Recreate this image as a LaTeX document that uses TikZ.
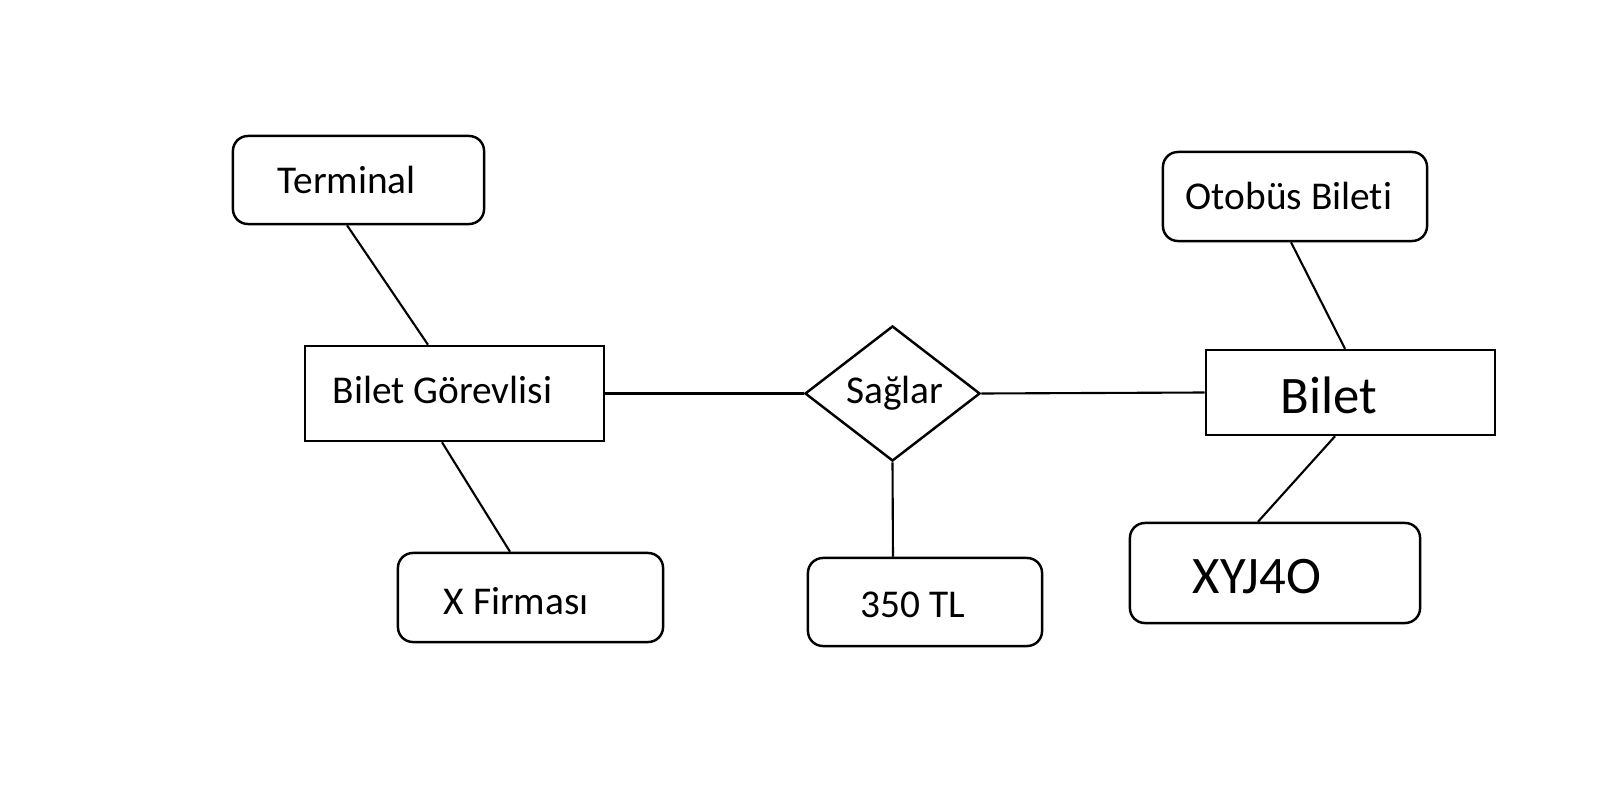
\documentclass[tikz,border=0pt]{standalone}
\usepackage{fontspec}
\setmainfont{Carlito}[Ligatures={NoCommon,NoRequired,NoContextual}]
\usetikzlibrary{shapes.geometric}
\begin{document}
\begin{tikzpicture}[x=0.01cm,y=-0.01cm,
  rbox/.style={draw,line width=0.7pt,rounded corners=0.15cm,inner sep=0},
  sbox/.style={draw,line width=0.7pt,inner sep=0},
  lbl/.style={anchor=west,inner sep=0,font=\fontsize{11.2}{13}\selectfont},
  big/.style={anchor=west,inner sep=0,font=\fontsize{15}{18}\selectfont},
  conn/.style={line width=0.6pt}]
\useasboundingbox (0,0) rectangle (1600,794);
% boxes
\node[rbox,minimum width=2.51cm,minimum height=0.88cm] (term) at (358.5,180) {};
\node[sbox,minimum width=2.99cm,minimum height=0.95cm] (bg) at (454.5,393.5) {};
\node[rbox,minimum width=2.65cm,minimum height=0.89cm] (xf) at (530.5,597.5) {};
\node[draw,diamond,line width=0.7pt,inner sep=0,minimum width=1.75cm,minimum height=1.35cm] (sag) at (892.5,393.5) {};
\node[rbox,minimum width=2.34cm,minimum height=0.88cm] (tl) at (925,602) {};
\node[rbox,minimum width=2.64cm,minimum height=0.89cm] (oto) at (1295,196.5) {};
\node[sbox,minimum width=2.89cm,minimum height=0.85cm] (bil) at (1350.5,392.5) {};
\node[rbox,minimum width=2.90cm,minimum height=1.00cm] (xyj) at (1275,573) {};
% texts
\node[lbl] (termt) at (277,180) {Terminal};
\node[lbl] (bgt) at (332,390) {Bilet Görevlisi};
\node[lbl] (xft) at (443,601) {X Firması};
\node[lbl,anchor=center] (sagt) at (895,393) {Sağlar};
\node[lbl] (tlt) at (860,605) {350 TL};
\node[lbl] (otot) at (1185,196) {Otobüs Bileti};
\node[big] (bilt) at (1280,395) {Bilet};
\node[big] (xyjt) at (1192,577) {XYJ4O};
% connectors
\draw[conn] ([xshift=-0.115cm]term.south) -- ([xshift=-0.265cm]bg.north);
\draw[conn] ([xshift=-0.125cm]bg.south) -- ([xshift=-0.205cm]xf.north);
\draw[conn] (bg.east) -- (sag.west);
\draw[conn] (sag.east) -- (bil.west);
\draw[conn] (sag.south) -- ([xshift=-0.32cm]tl.north);
\draw[conn] ([xshift=-0.04cm]oto.south) -- ([xshift=-0.055cm]bil.north);
\draw[conn] ([xshift=-0.155cm]bil.south) -- ([xshift=-0.17cm]xyj.north);
\end{tikzpicture}
\end{document}
